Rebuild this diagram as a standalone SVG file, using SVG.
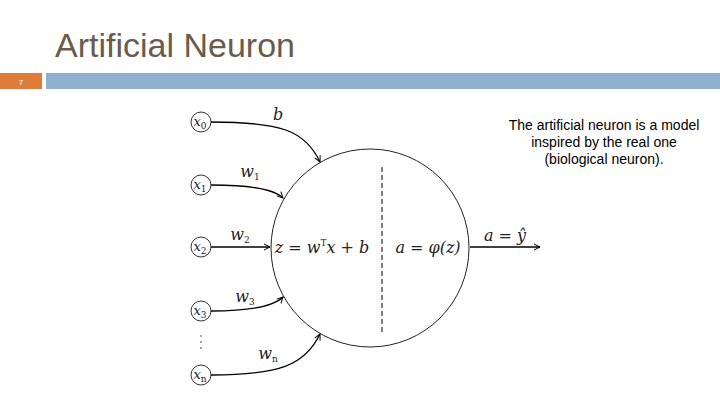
<svg xmlns="http://www.w3.org/2000/svg" width="720" height="405" viewBox="0 0 720 405">
<defs><marker id="ah" markerWidth="8" markerHeight="8" refX="7" refY="4" orient="auto" markerUnits="userSpaceOnUse"><path d="M1,1 L7,4 L1,7" fill="none" stroke="#000" stroke-width="1"/></marker></defs>
<style>
.m{font-family:"DejaVu Serif","Liberation Serif",serif;font-style:italic;font-size:16px;fill:#222}
.s{font-style:normal;font-size:9px}
.in{fill:none;stroke:#333;stroke-width:1}
.x{font-size:13px}
.c{fill:none;stroke:#000;stroke-width:1.3;marker-end:url(#ah)}
</style>
<rect width="720" height="405" fill="#fff"/>
<text x="55" y="57" font-family="Liberation Sans,Arial,sans-serif" font-size="34" fill="#6b5a4e">Artificial Neuron</text>
<rect x="0" y="73" width="42" height="16" fill="#e07b39"/>
<text x="21" y="85" font-family="Liberation Sans,sans-serif" font-size="8" fill="#fff" text-anchor="middle">7</text>
<rect x="46" y="73" width="674" height="16" fill="#8fb0cf"/>
<text font-family="Liberation Sans,Arial,sans-serif" font-size="14" fill="#000" text-anchor="middle"><tspan x="604" y="130">The artificial neuron is a model</tspan><tspan x="604" y="147">inspired by the real one</tspan><tspan x="604" y="164">(biological neuron).</tspan></text>
<g id="neuron"><circle cx="370" cy="248" r="99" fill="none" stroke="#222" stroke-width="1"/>
<line x1="382" y1="167" x2="382" y2="333" stroke="#000" stroke-dasharray="5,3"/>
<text class="m" x="322" y="253" text-anchor="middle">z = w<tspan dy="-7" class="s">T</tspan><tspan dy="7">x + b</tspan></text>
<text class="m" x="428" y="253" text-anchor="middle">a = φ(z)</text></g>
<g id="x0"><circle class="in" cx="201" cy="122" r="10"/><text class="m x" x="200" y="126" text-anchor="middle">x<tspan class="s" dy="3">0</tspan></text></g>
<g id="x1"><circle class="in" cx="201" cy="185" r="10"/><text class="m x" x="200" y="189" text-anchor="middle">x<tspan class="s" dy="3">1</tspan></text></g>
<g id="x2"><circle class="in" cx="201" cy="247" r="10"/><text class="m x" x="200" y="251" text-anchor="middle">x<tspan class="s" dy="3">2</tspan></text></g>
<g id="x3"><circle class="in" cx="201" cy="311" r="10"/><text class="m x" x="200" y="315" text-anchor="middle">x<tspan class="s" dy="3">3</tspan></text></g>
<g id="xn"><circle class="in" cx="201" cy="375" r="10"/><text class="m x" x="200" y="379" text-anchor="middle">x<tspan class="s" dy="3">n</tspan></text></g>
<g fill="#333"><circle cx="201" cy="336" r="0.8"/><circle cx="201" cy="342" r="0.8"/><circle cx="201" cy="348" r="0.8"/></g>
<g id="connectors">
<path class="c" d="M211,122 C280,122 305,130 320,162"/>
<path class="c" d="M211,185 C255,185 275,190 283,198"/>
<path class="c" d="M211,247 L270,247"/>
<path class="c" d="M211,311 C255,311 275,305 283,297"/>
<path class="c" d="M211,375 C280,375 305,365 320,334"/>
<path class="c" d="M470,247 L540,247"/>
</g>
<text class="m" x="278" y="120" text-anchor="middle">b</text>
<text class="m" x="250" y="177" text-anchor="middle">w<tspan class="s" dy="3">1</tspan></text>
<text class="m" x="240" y="240" text-anchor="middle">w<tspan class="s" dy="3">2</tspan></text>
<text class="m" x="245" y="302" text-anchor="middle">w<tspan class="s" dy="3">3</tspan></text>
<text class="m" x="268" y="359" text-anchor="middle">w<tspan class="s" dy="3">n</tspan></text>
<text class="m" x="505" y="241" text-anchor="middle">a = ŷ</text>
</svg>
